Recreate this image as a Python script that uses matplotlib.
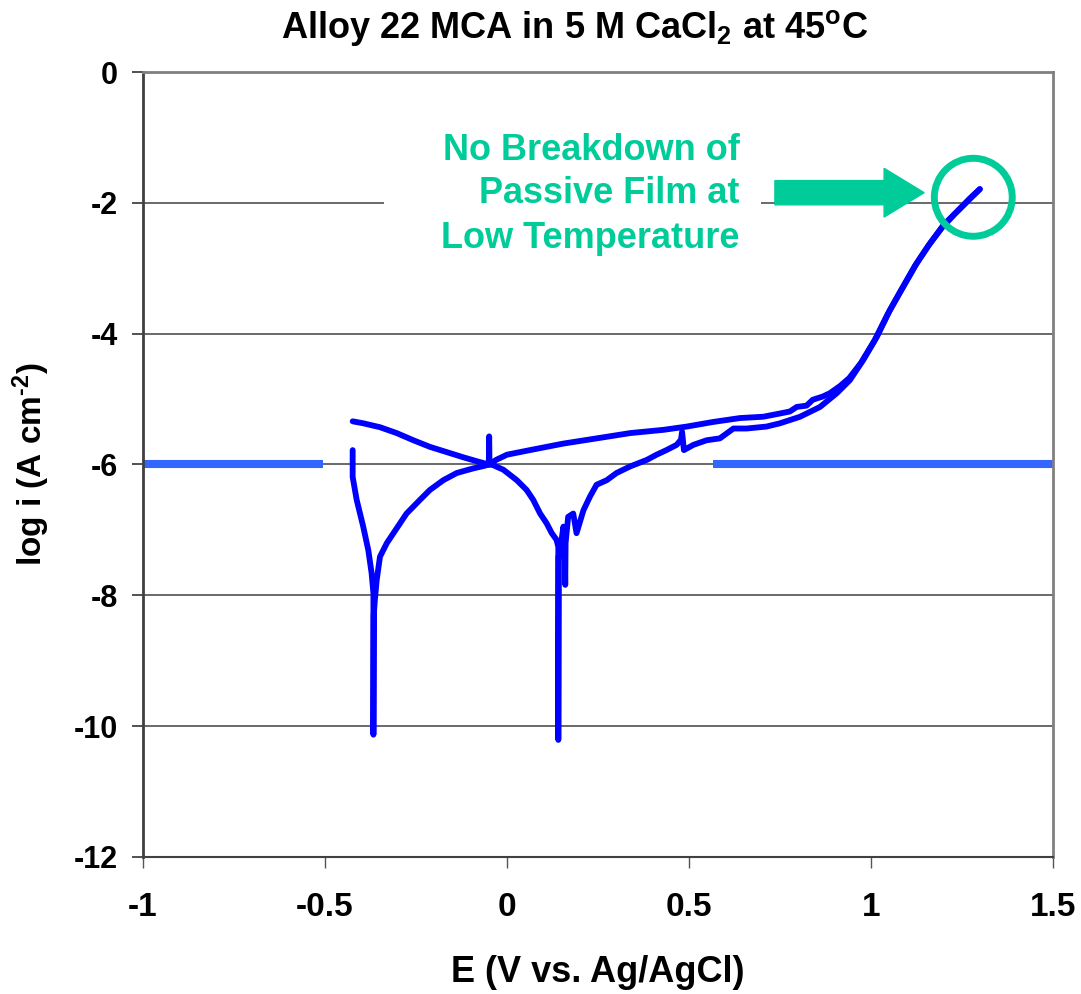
import matplotlib
matplotlib.use("Agg")
import matplotlib.pyplot as plt
from matplotlib.patches import Ellipse, FancyArrow, Rectangle

plt.rcParams['font.family'] = ['Liberation Sans', 'DejaVu Sans']
plt.rcParams['font.weight'] = 'bold'
plt.rcParams['mathtext.fontset'] = 'custom'
plt.rcParams['mathtext.rm'] = 'Liberation Sans:bold'
plt.rcParams['mathtext.it'] = 'Liberation Sans:bold'
plt.rcParams['mathtext.bf'] = 'Liberation Sans:bold'
plt.rcParams['mathtext.default'] = 'rm'

# ---------------- data ----------------
title = r'Alloy 22 MCA in 5 M CaCl$_2$ at 45$^o$C'
xlabel = 'E (V vs. Ag/AgCl)'
ylabel = r'log i (A cm$^{\text{-}2}$)'
x_ticks = [-1.0, -0.5, 0.0, 0.5, 1.0, 1.5]
x_ticklabels = ['-1', '-0.5', '0', '0.5', '1', '1.5']
y_ticks = [0, -2, -4, -6, -8, -10, -12]
y_ticklabels = ['0', '-2', '-4', '-6', '-8', '-10', '-12']

# forward scan (E in V, log i)
fwd_E = [-0.424, -0.424, -0.413, -0.395, -0.381, -0.372, -0.367, -0.367, -0.366, -0.363,
         -0.358, -0.349, -0.330, -0.312, -0.276, -0.239, -0.212, -0.175, -0.138, -0.093,
         -0.062, -0.050, -0.049, -0.048, -0.038, -0.010, 0.027, 0.054, 0.072, 0.091,
         0.109, 0.123, 0.136, 0.141, 0.141, 0.142, 0.146, 0.155, 0.159, 0.160,
         0.161, 0.168, 0.182, 0.191, 0.210, 0.228, 0.246, 0.274, 0.301, 0.338,
         0.384, 0.411, 0.438, 0.466, 0.478, 0.481, 0.486, 0.512, 0.548, 0.585,
         0.622, 0.658, 0.713, 0.750, 0.805, 0.860, 0.906, 0.942, 0.979, 1.016,
         1.052, 1.089, 1.126, 1.162, 1.199, 1.235, 1.272, 1.299]
fwd_logi = [-5.78, -6.19, -6.54, -6.95, -7.31, -7.66, -7.97, -10.13, -8.30, -8.07,
            -7.77, -7.41, -7.20, -7.05, -6.75, -6.54, -6.39, -6.24, -6.13, -6.06,
            -6.02, -6.00, -5.57, -6.00, -6.01, -6.08, -6.24, -6.39, -6.54, -6.75,
            -6.90, -7.05, -7.15, -7.26, -10.21, -7.40, -7.31, -6.95, -7.46, -7.84,
            -7.20, -6.80, -6.75, -7.05, -6.70, -6.49, -6.31, -6.24, -6.13, -6.03,
            -5.93, -5.85, -5.78, -5.70, -5.62, -5.50, -5.78, -5.70, -5.63, -5.60,
            -5.45, -5.45, -5.42, -5.37, -5.27, -5.12, -4.91, -4.71, -4.40, -4.05,
            -3.64, -3.28, -2.92, -2.62, -2.34, -2.14, -1.93, -1.79]

# reverse scan (E in V, log i)
rev_E = [1.299, 1.270, 1.230, 1.195, 1.157, 1.120, 1.083, 1.046, 1.010, 0.972,
         0.940, 0.915, 0.887, 0.868, 0.840, 0.823, 0.796, 0.777, 0.750, 0.704,
         0.640, 0.566, 0.494, 0.430, 0.338, 0.247, 0.155, 0.063, 0.000, -0.030,
         -0.050, -0.083, -0.120, -0.166, -0.212, -0.257, -0.303, -0.349, -0.395, -0.424]
rev_logi = [-1.79, -1.95, -2.17, -2.38, -2.66, -2.97, -3.33, -3.70, -4.10, -4.45,
            -4.68, -4.80, -4.91, -4.96, -5.01, -5.10, -5.12, -5.19, -5.22, -5.27,
            -5.29, -5.35, -5.42, -5.47, -5.52, -5.60, -5.68, -5.78, -5.85, -5.93,
            -6.00, -5.95, -5.89, -5.81, -5.73, -5.63, -5.52, -5.43, -5.37, -5.34]

band_level = -6.0
band_segments = [(-1.0, -0.505), (0.566, 1.5)]

note_lines = ['No Breakdown of', 'Passive Film at', 'Low Temperature']
note_x = 0.640
note_y = [-1.345, -2.007, -2.69]
arrow_tail = (0.736, -1.845)
arrow_tip_x = 1.146
circle_center = (1.281, -1.915)

green = '#00CC99'
# ---------------- figure ----------------
fig = plt.figure(figsize=(10.81, 9.94), dpi=100)
ax = fig.add_axes([143 / 1081, 1 - 857 / 994, 910 / 1081, 785 / 994])

ax.set_xlim(-1, 1.5)
ax.set_ylim(-12, 0)

ax.set_yticks(y_ticks)
ax.set_yticklabels(y_ticklabels, fontsize=22, fontweight='bold')
ax.set_xticks(x_ticks)
ax.set_xticklabels(x_ticklabels, fontsize=24, fontweight='bold')
ax.tick_params(axis='y', direction='out', length=8, width=1.2, color='#333333', pad=10)
ax.tick_params(axis='x', direction='out', length=8, width=1.0, color='#555555', pad=17)

ax.yaxis.grid(True, color='#505050', linewidth=1.2, zorder=0)
ax.xaxis.grid(False)
ax.set_axisbelow(True)

for side in ['top', 'right']:
    ax.spines[side].set_color('#808080')
    ax.spines[side].set_linewidth(2.0)
ax.spines['left'].set_color('#404040')
ax.spines['left'].set_linewidth(2.0)
ax.spines['bottom'].set_color('#404040')
ax.spines['bottom'].set_linewidth(1.5)

# white box behind the note (hides gridline)
ax.add_patch(Rectangle((-0.338, -2.90), 0.698 + 0.338, 2.10, facecolor='white',
                       edgecolor='none', zorder=1.5))

# blue bands at -6
for x0, x1 in band_segments:
    ax.plot([x0, x1], [band_level, band_level], color='#3366FF', linewidth=5.8,
            solid_capstyle='butt', zorder=2)

# curves
ax.plot(rev_E, rev_logi, color='#0000FF', linewidth=4.2, zorder=3,
        solid_joinstyle='round', solid_capstyle='round')
ax.plot(fwd_E, fwd_logi, color='#0000FF', linewidth=4.2, zorder=3,
        solid_joinstyle='round', solid_capstyle='round')

# annotation
for line, yy in zip(note_lines, note_y):
    ax.text(note_x, yy, line, ha='right', va='baseline', fontsize=26,
            fontweight='bold', color=green, zorder=5)

ax.add_patch(FancyArrow(arrow_tail[0], arrow_tail[1], arrow_tip_x - arrow_tail[0], 0,
                        width=0.37, head_width=0.745, head_length=0.11,
                        length_includes_head=True, color=green, zorder=5))
ax.add_patch(Ellipse(circle_center, 2 * 0.107, 2 * 0.596, facecolor='none',
                     edgecolor=green, linewidth=5.0, zorder=5))

ax.set_xlabel(xlabel, fontsize=26, fontweight='bold')
ax.xaxis.set_label_coords(0.5, -0.125)
ax.set_ylabel(ylabel, fontsize=24, fontweight='bold')
ax.yaxis.set_label_coords(-0.10, 0.5)

fig.text(574.5 / 1081, 1 - 38 / 994, title, ha='center', va='baseline',
         fontsize=26, fontweight='bold')

fig.savefig('out.png', dpi=100)
